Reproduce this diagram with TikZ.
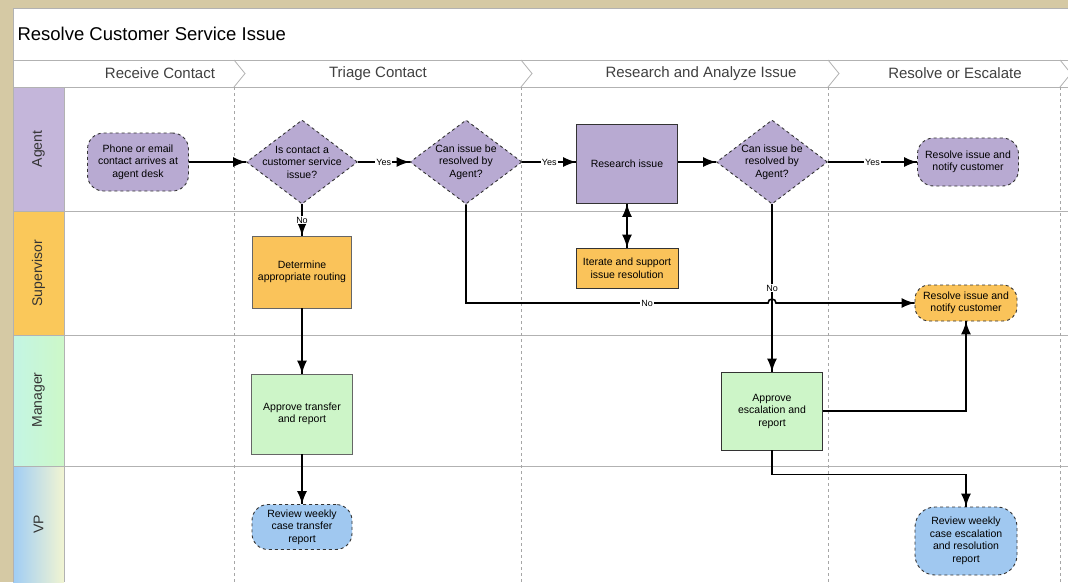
\documentclass[tikz,border=0pt]{standalone}
\usepackage{fontspec}
\setmainfont{Liberation Sans}
\usepackage{tikz}
\usetikzlibrary{arrows.meta}
\usetikzlibrary{decorations.markings}
\usetikzlibrary{shapes.geometric}
\newcommand{\nodefont}{\fontsize{10.5}{12.5}\selectfont}
\tikzset{flow/.style = {decoration={markings,
                                    mark=at position 1 with {\arrow{Latex[length=13pt, width=10pt]}}},
                        postaction={decorate}}}
\tikzset{flowboth/.style = {decoration={markings,
                                        mark=at position 0 with {\arrowreversed{Latex[length=13pt, width=10pt]}},
                                        mark=at position 1 with {\arrow{Latex[length=13pt, width=10pt]}}},
                            postaction={decorate}}}
\tikzset{link/.style = {draw=black, line width=1.6pt}}
\tikzset{lbl/.style = {fill=white, inner sep=1pt, font=\fontsize{9}{10}\selectfont}}
\tikzset{box/.style = {rectangle, draw=black!60, line width=0.8pt, align=center,
                       font=\nodefont, inner sep=2pt}}
\tikzset{term/.style = {rectangle, rounded corners=16pt, draw=black!80, dashed,
                        line width=0.9pt, align=center, font=\nodefont, inner sep=2pt}}
\tikzset{decision/.style = {diamond, draw=black!80, dashed, line width=0.9pt, inner sep=0,
                            minimum width=111, minimum height=84,
                            label={[align=center, font=\nodefont]center:#1}}}
\tikzset{lane/.style = {draw=black!30, line width=0.8pt}}
\tikzset{phase/.style = {draw=black!35, dashed, line width=0.6pt}}
\tikzset{lanename/.style = {rotate=90, font=\fontsize{14}{16}\selectfont, text=black!80}}
\tikzset{phasename/.style = {font=\fontsize{15}{17}\selectfont, text=black!75}}
\definecolor{tan}{RGB}{213,201,164}
\definecolor{agentlane}{RGB}{196,182,218}
\definecolor{agentnode}{RGB}{184,170,210}
\definecolor{suplane}{RGB}{250,200,90}
\definecolor{supnode}{RGB}{250,195,90}
\definecolor{mgrleft}{RGB}{195,245,228}
\definecolor{mgrright}{RGB}{205,248,200}
\definecolor{mgrnode}{RGB}{205,245,200}
\definecolor{vpleft}{RGB}{160,205,245}
\definecolor{vpright}{RGB}{242,245,210}
\definecolor{vpnode}{RGB}{160,200,240}

\begin{document}
\begin{tikzpicture}[x=1pt, y=-1pt]
      \useasboundingbox (0,0) rectangle (1068,582);
      \fill[tan] (0,0) rectangle (1068,582);
      \fill[white] (13,8) rectangle (1068,582);

      \fill[agentlane] (13,87) rectangle (64,211);
      \fill[suplane] (13,211) rectangle (64,335);
      \shade[left color=mgrleft, right color=mgrright] (13,335) rectangle (64,466);
      \shade[left color=vpleft, right color=vpright] (13,466) rectangle (64,582);

      \draw[lane] (13,8) -- (1068,8);
      \draw[lane] (13,8) -- (13,582);
      \draw[lane] (13,60) -- (1068,60);
      \draw[lane] (13,87) -- (1068,87);
      \draw[lane] (64,87) -- (64,582);
      \foreach \y in {211, 335, 466}
        \draw[lane] (13,\y) -- (1068,\y);
      \foreach \x in {234, 521, 828, 1060} {
        \draw[phase] (\x,87) -- (\x,582);
        \fill[white] (\x,61) -- (\x+11,73.5) -- (\x,86) -- cycle;
        \draw[lane] (\x,60) -- (\x+11,73.5) -- (\x,87);
      }

      \node[anchor=west, font=\fontsize{18.5}{21}\selectfont] (title) at (14,34)
        {Resolve Customer Service Issue};
      \node[phasename] (receive) at (160,73.5) {Receive Contact};
      \node[phasename] (triage) at (378,73.5) {Triage Contact};
      \node[phasename] (research) at (701,73.5) {Research and Analyze Issue};
      \node[phasename] (escalate) at (955,73.5) {Resolve or Escalate};

      \node[lanename] (agent) at (38.5,149) {Agent};
      \node[lanename] (supervisor) at (38.5,273) {Supervisor};
      \node[lanename] (manager) at (38.5,400) {Manager};
      \node[lanename] (vp) at (38.5,524) {VP};

      \node[term, fill=agentnode, minimum width=101, minimum height=58] (ph) at (138,162)
        {Phone or email\\contact arrives at\\agent desk};
      \node[decision={Is contact a\\customer service\\issue?}, fill=agentnode] (d1) at (302,162) {};
      \node[decision={Can issue be\\resolved by\\Agent?}, fill=agentnode, minimum width=112] (d2) at (466,162) {};
      \node[box, draw=black!80, fill=agentnode, minimum width=101, minimum height=79] (ri) at (627,164)
        {Research issue};
      \node[decision={Can issue be\\resolved by\\Agent?}, fill=agentnode] (d3) at (772,162) {};
      \node[term, fill=agentnode, minimum width=101, minimum height=48] (ra) at (968,162)
        {Resolve issue and\\notify customer};

      \node[box, fill=supnode, minimum width=99, minimum height=72] (dr) at (302,272)
        {Determine\\appropriate routing};
      \node[box, draw=black!80, fill=supnode, minimum width=102, minimum height=40] (it) at (627,268)
        {Iterate and support\\issue resolution};
      \node[term, fill=supnode, minimum width=102, minimum height=36, rounded corners=14pt] (rs) at (966,303)
        {Resolve issue and\\notify customer};

      \node[box, fill=mgrnode, minimum width=101, minimum height=80] (at) at (302,414)
        {Approve transfer\\and report};
      \node[box, draw=black!80, fill=mgrnode, minimum width=101, minimum height=78] (ae) at (772,411)
        {Approve\\escalation and\\report};

      \node[term, fill=vpnode, minimum width=100, minimum height=45] (rt) at (302,527)
        {Review weekly\\case transfer\\report};
      \node[term, fill=vpnode, minimum width=102, minimum height=68, rounded corners=20pt] (re) at (966,541)
        {Review weekly\\case escalation\\and resolution\\report};

      \coordinate (hopL) at (768,303);

      \draw[link, flow] (ph) -- (d1);
      \draw[link, flow] (d1) -- node[lbl] {Yes} (d2);
      \draw[link, flow] (d2) -- node[lbl] {Yes} (d2.east -| ri.west);
      \draw[link, flow] (ri.east |- d3) -- (d3);
      \draw[link, flow] (d3) -- node[lbl] {Yes} (ra);
      \draw[link, flow] (d1) -- node[lbl] {No} (dr);
      \draw[link, flowboth] (ri.south -| it.north) -- (it.north);
      \draw[link, flow] (d2.south) |- node[lbl, pos=0.8] {No} (hopL)
        arc[start angle=180, end angle=360, radius=4] -- (rs.west);
      \draw[link, flow] (d3.south) -- node[lbl] {No} (ae.north);
      \draw[link, flow] (dr) -- (at);
      \draw[link, flow] (at) -- (rt);
      \draw[link, flow] (ae.east) -| (rs.south);
      \draw[link, flow] (ae.south) -- ++(0,24) -| (re.north);
    \end{tikzpicture}
\end{document}
